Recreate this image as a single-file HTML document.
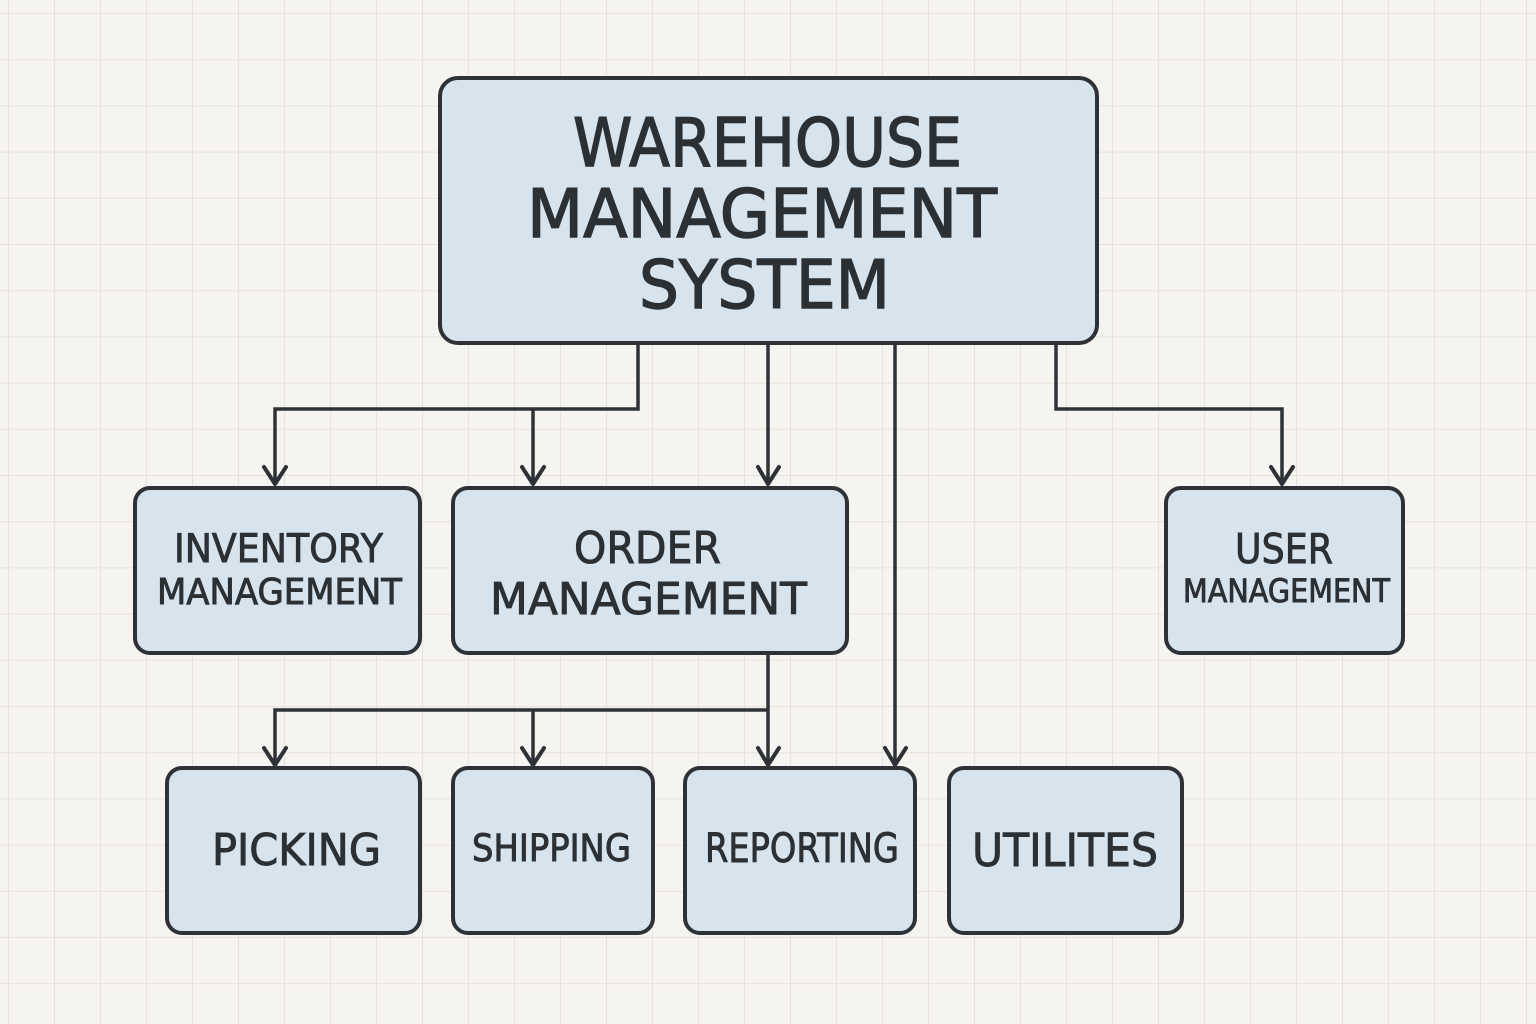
<!DOCTYPE html>
<html>
<head>
<meta charset="utf-8">
<style>
html,body{margin:0;padding:0;background:#f6f4f0;}
svg{display:block;}
text{font-family:"DejaVu Sans","Liberation Sans",sans-serif;fill:#2b3035;stroke:#2b3035;stroke-width:0.9;}
</style>
</head>
<body>
<svg width="1536" height="1024" viewBox="0 0 1536 1024" xmlns="http://www.w3.org/2000/svg">
  <defs>
    <pattern id="grid" x="8" y="13" width="46" height="46.2" patternUnits="userSpaceOnUse">
      <line x1="0" y1="0" x2="0" y2="46.2" stroke="#e6e3de" stroke-width="2"/>
      <line x1="0" y1="0" x2="46" y2="0" stroke="#e6e3de" stroke-width="2"/>
    </pattern>
  </defs>
  <rect x="0" y="0" width="1536" height="1024" fill="#f6f4f0"/>
  <rect x="0" y="0" width="1536" height="1024" fill="url(#grid)"/>

  <g fill="none" stroke="#2e3236" stroke-width="3.5" stroke-linejoin="miter">
    <polyline points="638,343 638,409 275,409 275,484"/>
    <line x1="533" y1="409" x2="533" y2="484"/>
    <line x1="768" y1="343" x2="768" y2="484"/>
    <line x1="895" y1="343" x2="895" y2="764"/>
    <polyline points="1056,343 1056,409 1282,409 1282,484"/>
    <line x1="768" y1="653" x2="768" y2="764"/>
    <polyline points="768,710 275,710 275,764"/>
    <line x1="533" y1="710" x2="533" y2="764"/>
  </g>

  <g fill="none" stroke="#2e3236" stroke-width="4" stroke-linecap="round" stroke-linejoin="round">
    <polyline points="264,467 275,484 286,467"/>
    <polyline points="522,467 533,484 544,467"/>
    <polyline points="758,467 768,484 779,467"/>
    <polyline points="1271,467 1282,484 1293,467"/>
    <polyline points="264,748 275,765 286,748"/>
    <polyline points="522,748 533,765 544,748"/>
    <polyline points="758,748 768,765 779,748"/>
    <polyline points="885,748 895,765 906,748"/>
  </g>

  <g fill="#d7e4ee" stroke="#2e3236" stroke-width="4">
    <rect x="440" y="78" width="657" height="265" rx="18" ry="18"/>
    <rect x="135" y="488" width="285" height="165" rx="15" ry="15"/>
    <rect x="453" y="488" width="394" height="165" rx="15" ry="15"/>
    <rect x="1166" y="488" width="237" height="165" rx="15" ry="15"/>
    <rect x="167" y="768" width="253" height="165" rx="15" ry="15"/>
    <rect x="453" y="768" width="200" height="165" rx="15" ry="15"/>
    <rect x="685" y="768" width="230" height="165" rx="15" ry="15"/>
    <rect x="949" y="768" width="233" height="165" rx="15" ry="15"/>
  </g>

  <text x="573" y="166" font-size="67" textLength="389" lengthAdjust="spacingAndGlyphs" style="stroke-width:1.4">WAREHOUSE</text>
  <text x="527" y="237" font-size="67" textLength="470" lengthAdjust="spacingAndGlyphs" style="stroke-width:1.4">MANAGEMENT</text>
  <text x="639" y="308" font-size="67" textLength="251" lengthAdjust="spacingAndGlyphs" style="stroke-width:1.4">SYSTEM</text>

  <text x="174" y="562" font-size="39" textLength="209" lengthAdjust="spacingAndGlyphs">INVENTORY</text>
  <text x="157" y="604" font-size="36" textLength="245" lengthAdjust="spacingAndGlyphs">MANAGEMENT</text>

  <text x="574" y="563" font-size="44" textLength="147" lengthAdjust="spacingAndGlyphs">ORDER</text>
  <text x="490" y="614" font-size="44" textLength="317" lengthAdjust="spacingAndGlyphs">MANAGEMENT</text>

  <text x="1235" y="563" font-size="41" textLength="98" lengthAdjust="spacingAndGlyphs">USER</text>
  <text x="1183" y="602" font-size="32" textLength="207" lengthAdjust="spacingAndGlyphs">MANAGEMENT</text>

  <text x="212" y="865" font-size="44" textLength="169" lengthAdjust="spacingAndGlyphs">PICKING</text>
  <text x="472" y="861" font-size="37" textLength="159" lengthAdjust="spacingAndGlyphs">SHIPPING</text>
  <text x="705" y="862" font-size="40" textLength="194" lengthAdjust="spacingAndGlyphs">REPORTING</text>
  <text x="972" y="866" font-size="45" textLength="186" lengthAdjust="spacingAndGlyphs">UTILITES</text>
</svg>
</body>
</html>
